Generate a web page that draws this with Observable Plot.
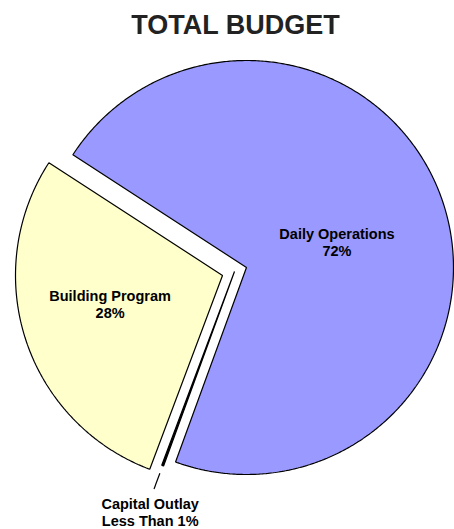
<!DOCTYPE html>
<html>
<head>
<meta charset="utf-8">
<script src="https://cdn.jsdelivr.net/npm/d3@7"></script>
<script src="https://cdn.jsdelivr.net/npm/@observablehq/plot@0.6"></script>
<style>
  html, body { margin: 0; padding: 0; background: #fff; }
  #chart { width: 454px; height: 529px; overflow: hidden; }
</style>
</head>
<body>
<div id="chart"></div>
<script>
// ---- data ----
const title = "TOTAL BUDGET";
const categories = ["Daily Operations", "Capital Outlay", "Building Program"];
const values = [71.4, 0.15, 28.45];
const labels = ["Daily Operations\n72%", "Capital Outlay\nLess Than 1%", "Building Program\n28%"];

// ---- layout / style ----
const W = 454, H = 529;
const CX = 234, CY = 271, R = 207;        // pie centre and radius in pixels
const startDeg = -57;
const colors = ["#9999ff", "#000000", "#ffffcc"];
const explode = [0.061, 0, 0.061];
const labelRadius = [0.454, 1.232, 0.56];
const labelAngleShift = [2.8, -1, 4.1];
const rad = Math.PI / 180;

const arcs = d3.pie().sort(null).value(d => d)
  .startAngle(startDeg * rad).endAngle((startDeg + 360) * rad)(values);

const pts = [];
const labelData = [];
arcs.forEach((a, i) => {
  const mid = (a.startAngle + a.endAngle) / 2;
  const ox = explode[i] * Math.sin(mid), oy = -explode[i] * Math.cos(mid);
  pts.push({cat: categories[i], x: ox, y: oy});
  const n = Math.max(2, Math.ceil((a.endAngle - a.startAngle) / (0.5 * rad)));
  for (let k = 0; k <= n; k++) {
    const t = a.startAngle + (a.endAngle - a.startAngle) * k / n;
    pts.push({cat: categories[i], x: ox + Math.sin(t), y: oy - Math.cos(t)});
  }
  const la = mid + labelAngleShift[i] * rad;
  labelData.push({cat: categories[i], text: labels[i],
    x: ox + labelRadius[i] * Math.sin(la), y: oy - labelRadius[i] * Math.cos(la)});
});

// leader line for the tiny slice
const cap = arcs[1];
const cmid = (cap.startAngle + cap.endAngle) / 2;
const leader = [{x1: 1.039 * Math.sin(cmid), y1: -1.039 * Math.cos(cmid),
                 x2: 1.12 * Math.sin(cmid), y2: -1.12 * Math.cos(cmid)}];

const font = "'Liberation Sans', Arial, Helvetica, sans-serif";

const chart = Plot.plot({
  width: W, height: H,
  margin: 0,
  style: {fontFamily: font, background: "#fff"},
  x: {domain: [-CX / R, (W - CX) / R], range: [0, W], axis: null},
  y: {domain: [-CY / R, (H - CY) / R], range: [0, H], axis: null},
  color: {domain: categories, range: colors},
  marks: [
    Plot.line(pts, {x: "x", y: "y", z: "cat", fill: "cat", stroke: "#000",
      strokeWidth: 1.2, curve: "linear-closed", strokeLinejoin: "miter"}),
    Plot.link(leader, {x1: "x1", y1: "y1", x2: "x2", y2: "y2", stroke: "#000", strokeWidth: 1.2}),
    Plot.text(labelData, {x: "x", y: "y", text: "text", fontSize: 14.5, fontWeight: "bold",
      lineHeight: 1.17, fill: "#000"}),
    Plot.text([title], {frameAnchor: "top", text: d => d, dx: 8, dy: 14, lineAnchor: "top",
      fontSize: 27, fontWeight: "bold", fill: "#222"})
  ]
});
document.getElementById("chart").appendChild(chart);
</script>
</body>
</html>
